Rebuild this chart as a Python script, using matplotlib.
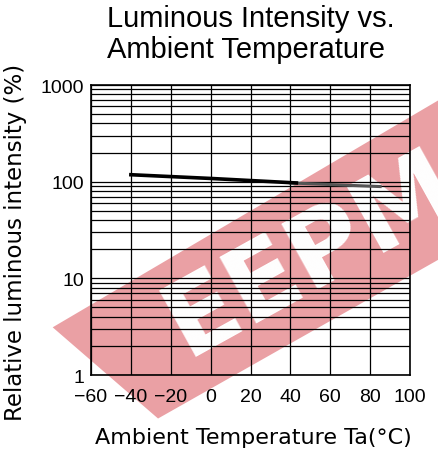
import matplotlib
matplotlib.use('Agg')
import matplotlib.pyplot as plt
from matplotlib.patches import Polygon
from matplotlib.ticker import FixedLocator, NullFormatter

# datos
temp_negro = [-40, 0, 43]
lum_negro = [118, 108, 97]
temp_gris = [40, 85]
lum_gris = [97, 89]

xticks = [-60, -40, -20, 0, 20, 40, 60, 80, 100]
yticks = [1, 10, 100, 1000]
ytick_labels = ['1', '10', '100', '1000']

fuente_fina = ['Liberation Sans', 'DejaVu Sans']

fig = plt.figure(figsize=(4.39, 4.56), dpi=100)
ax = fig.add_axes([0.2073, 0.1754, 0.7267, 0.636])
ax.set_facecolor('none')

# marca de agua (banda roja con letras blancas)
banda = Polygon([[0.12, 0.28], [0.36, 0.08], [1.02, 0.44], [1.02, 0.79]],
                closed=True, transform=fig.transFigure, facecolor='#eaa0a4',
                edgecolor='none', zorder=-2)
fig.patches.append(banda)
fig.text(0.71, 0.44, 'EEPM', transform=fig.transFigure, fontsize=74,
         fontweight='bold', color='white', rotation=29, ha='center',
         va='center', zorder=-1, family='DejaVu Sans')

# curvas
ax.plot(temp_gris, lum_gris, color='#555555', lw=2.2, zorder=3)
ax.plot(temp_negro, lum_negro, color='black', lw=2.6, zorder=4)

ax.set_yscale('log')
ax.set_xlim(-60, 100)
ax.set_ylim(1, 1000)
ax.xaxis.set_major_locator(FixedLocator(xticks))
ax.yaxis.set_major_locator(FixedLocator(yticks))
ax.set_yticklabels(ytick_labels)
ax.yaxis.set_minor_formatter(NullFormatter())

ax.grid(True, which='both', color='black', lw=0.9)
ax.tick_params(which='both', length=0)
ax.tick_params(axis='x', pad=9)
ax.tick_params(axis='y', pad=5)
for lbl in ax.get_xticklabels() + ax.get_yticklabels():
    lbl.set_family(fuente_fina)
    lbl.set_fontsize(14)
for s in ax.spines.values():
    s.set_linewidth(1.2)

ax.set_xlabel('Ambient Temperature Ta(°C)', fontsize=16, family='DejaVu Sans')
ax.xaxis.set_label_coords(0.508, -0.18)
ax.set_ylabel('Relative luminous intensity (%)', fontsize=16.5,
              family='DejaVu Sans')
ax.yaxis.set_label_coords(-0.2, 0.46)

fig.text(0.244, 0.99, 'Luminous Intensity vs.\nAmbient Temperature',
         fontsize=21, family=fuente_fina, ha='left', va='top',
         linespacing=1.15)

fig.savefig('out.png', dpi=100)
